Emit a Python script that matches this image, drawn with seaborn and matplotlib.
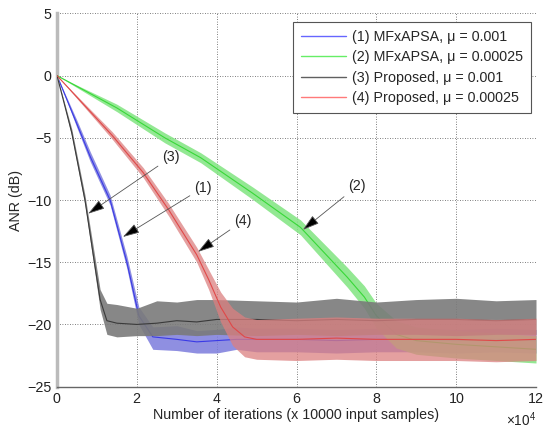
import matplotlib
matplotlib.use("Agg")
import numpy as np
import pandas as pd
import matplotlib.pyplot as plt
import seaborn as sns
from matplotlib.lines import Line2D

# ---- learning curves: iterations (x 10^4), mean ANR and noise envelope (dB) ----
labels = [
    "(1) MFxAPSA, \u03bc = 0.001",
    "(2) MFxAPSA, \u03bc = 0.00025",
    "(3) Proposed, \u03bc = 0.001",
    "(4) Proposed, \u03bc = 0.00025",
]

it1 = [0, 0.5, 0.83, 1.33, 1.75, 2.05, 2.4, 3, 3.5, 4, 4.5, 5, 6, 7, 8, 9, 10, 11, 12]
mid1 = [0, -3.9, -6.5, -10.0, -15.0, -19.3, -21.0, -21.2, -21.4, -21.3, -21.2, -21.2, -21.2, -21.3, -21.2, -21.2, -21.3, -21.2, -21.3]
lo1 = [0, -4.2, -6.9, -10.4, -15.5, -20.0, -22.0, -22.1, -22.3, -22.3, -22.0, -22.2, -22.2, -22.3, -22.2, -22.2, -22.3, -22.2, -22.3]
hi1 = [0, -3.6, -6.1, -9.6, -14.5, -18.6, -20.2, -20.1, -20.5, -20.4, -20.2, -20.3, -20.3, -20.4, -20.3, -20.3, -20.4, -20.3, -20.4]

it2 = [0, 1.5, 2.7, 3.6, 4.9, 6.1, 7.27, 7.7, 8.0, 8.5, 9, 10, 11, 12]
mid2 = [0, -2.6, -5.0, -6.6, -9.45, -12.2, -16.2, -17.8, -19.3, -20.8, -21.3, -21.6, -21.8, -22.0]
lo2 = [0, -2.9, -5.4, -7.0, -9.95, -12.8, -17.0, -18.7, -20.3, -21.9, -22.4, -22.7, -22.9, -23.1]
hi2 = [0, -2.3, -4.6, -6.2, -8.95, -11.6, -15.4, -16.9, -18.3, -19.7, -20.2, -20.5, -20.7, -20.9]

it3 = [0, 0.37, 0.7, 0.95, 1.08, 1.25, 1.5, 2, 2.5, 3, 3.5, 4, 5, 6, 7, 8, 9, 10, 11, 12]
mid3 = [0, -4.6, -10.0, -15.3, -18.0, -19.7, -19.9, -20.0, -19.9, -19.7, -19.8, -19.6, -19.6, -19.7, -19.6, -19.7, -19.6, -19.6, -19.7, -19.6]
lo3 = [0, -4.9, -10.4, -15.9, -18.8, -20.8, -21.0, -20.9, -20.9, -20.8, -20.9, -20.8, -20.9, -20.8, -20.9, -20.8, -20.8, -20.9, -20.8, -20.8]
hi3 = [0, -4.3, -9.6, -14.6, -17.2, -18.3, -18.4, -18.7, -18.1, -18.2, -18.0, -18.0, -18.1, -18.2, -17.9, -18.2, -18.0, -17.9, -18.1, -18.0]

it4 = [0, 1.38, 2.16, 2.8, 3.5, 3.8, 4.1, 4.4, 4.7, 5, 6, 7, 8, 9, 10, 11, 12]
mid4 = [0, -4.8, -7.8, -10.8, -14.4, -16.4, -18.6, -20.2, -21.0, -21.2, -21.2, -21.1, -21.2, -21.2, -21.2, -21.3, -21.2]
lo4 = [0, -5.1, -8.2, -11.3, -15.0, -17.2, -19.8, -21.7, -22.6, -22.8, -22.9, -22.8, -22.9, -22.9, -22.9, -23.0, -22.9]
hi4 = [0, -4.5, -7.4, -10.3, -13.8, -15.6, -17.4, -18.7, -19.4, -19.6, -19.5, -19.4, -19.5, -19.5, -19.5, -19.6, -19.5]

# annotation labels: (text position), (arrow tip) in (x 10^4, dB)
ann_text = ["(3)", "(1)", "(4)", "(2)"]
ann_xytext = [(2.86, -6.55), (3.66, -9.0), (4.66, -11.68), (7.52, -8.88)]
ann_tip = [(0.78, -11.1), (1.65, -12.97), (3.53, -14.17), (6.16, -12.4)]

SCALE = 1e4
line_colors = ["#3a3ae6", "#38d838", "#3a3a3a", "#e04848"]
band_colors = ["#7c7cdc", "#80e480", "#7a7a7a", "#dc8080"]
band_alpha = [0.85, 0.85, 0.9, 0.75]
legend_colors = ["#6666ff", "#66ee66", "#606060", "#ff7a7a"]

series = [
    (it1, mid1, lo1, hi1),
    (it2, mid2, lo2, hi2),
    (it3, mid3, lo3, hi3),
    (it4, mid4, lo4, hi4),
]

frames = []
for lab, (it, mid, lo, hi) in zip(labels, series):
    frames.append(pd.DataFrame({
        "iterations": np.asarray(it) * SCALE,
        "ANR": mid, "lo": lo, "hi": hi, "curve": lab,
    }))
df = pd.concat(frames, ignore_index=True)

sns.set_theme(style="white")
plt.rcParams["font.family"] = ["Liberation Sans", "DejaVu Sans"]
plt.rcParams["mathtext.fontset"] = "custom"
plt.rcParams["mathtext.rm"] = "Liberation Sans"

FS = 10.3

fig = plt.figure(figsize=(5.44, 4.32), dpi=100)
ax = fig.add_axes([0.1048, 0.105, 0.8805, 0.864])

for i, lab in enumerate(labels):
    sub = df[df["curve"] == lab]
    ax.fill_between(sub["iterations"], sub["lo"], sub["hi"],
                    color=band_colors[i], alpha=band_alpha[i], lw=0, zorder=2 + i)
    sns.lineplot(data=sub, x="iterations", y="ANR", ax=ax, color=line_colors[i],
                 lw=0.8, zorder=2.5 + i, legend=False)

ax.set_xlim(0, 12 * SCALE)
ax.set_ylim(-25, 5)
ax.set_xticks(np.arange(0, 13, 2) * SCALE)
ax.set_yticks(np.arange(-25, 6, 5))
ax.ticklabel_format(axis="x", style="sci", scilimits=(4, 4), useMathText=True)
ax.xaxis.get_offset_text().set_fontsize(FS - 0.5)

ax.grid(True, linestyle=(0, (1, 2)), color="#555555", lw=0.6)
ax.set_axisbelow(True)
for s in ["top", "right"]:
    ax.spines[s].set_visible(False)
ax.spines["left"].set_color("#bbbbbb")
ax.spines["left"].set_linewidth(2.5)
ax.spines["bottom"].set_color("#666666")
ax.spines["bottom"].set_linewidth(1.0)
ax.tick_params(direction="in", length=3, width=0.6, color="#555555",
               labelsize=FS, labelcolor="#222222", pad=4)

ax.set_xlabel("Number of iterations (x 10000 input samples)", fontsize=FS, labelpad=1)
ax.set_ylabel("ANR (dB)", fontsize=FS, labelpad=3)

for txt, pos, tip in zip(ann_text, ann_xytext, ann_tip):
    ax.annotate(txt, xy=(tip[0] * SCALE, tip[1]), xytext=(pos[0] * SCALE, pos[1]),
                fontsize=FS, ha="center", va="center", zorder=10,
                arrowprops=dict(arrowstyle="-|>,head_length=1.0,head_width=0.3",
                                fc="black", ec="#555555", lw=0.6,
                                shrinkA=1, shrinkB=0))

handles = [Line2D([], [], color=c, lw=1.0) for c in legend_colors]
leg = ax.legend(handles, labels, loc="upper right",
                bbox_to_anchor=(0.9896, 0.9767), borderaxespad=0, fontsize=FS,
                frameon=True, fancybox=False, framealpha=1,
                edgecolor="#555555", handlelength=3.2, handletextpad=0.4,
                labelspacing=0.45, borderpad=0.55)
leg.get_frame().set_linewidth(0.8)

fig.savefig("out.png", dpi=100)
